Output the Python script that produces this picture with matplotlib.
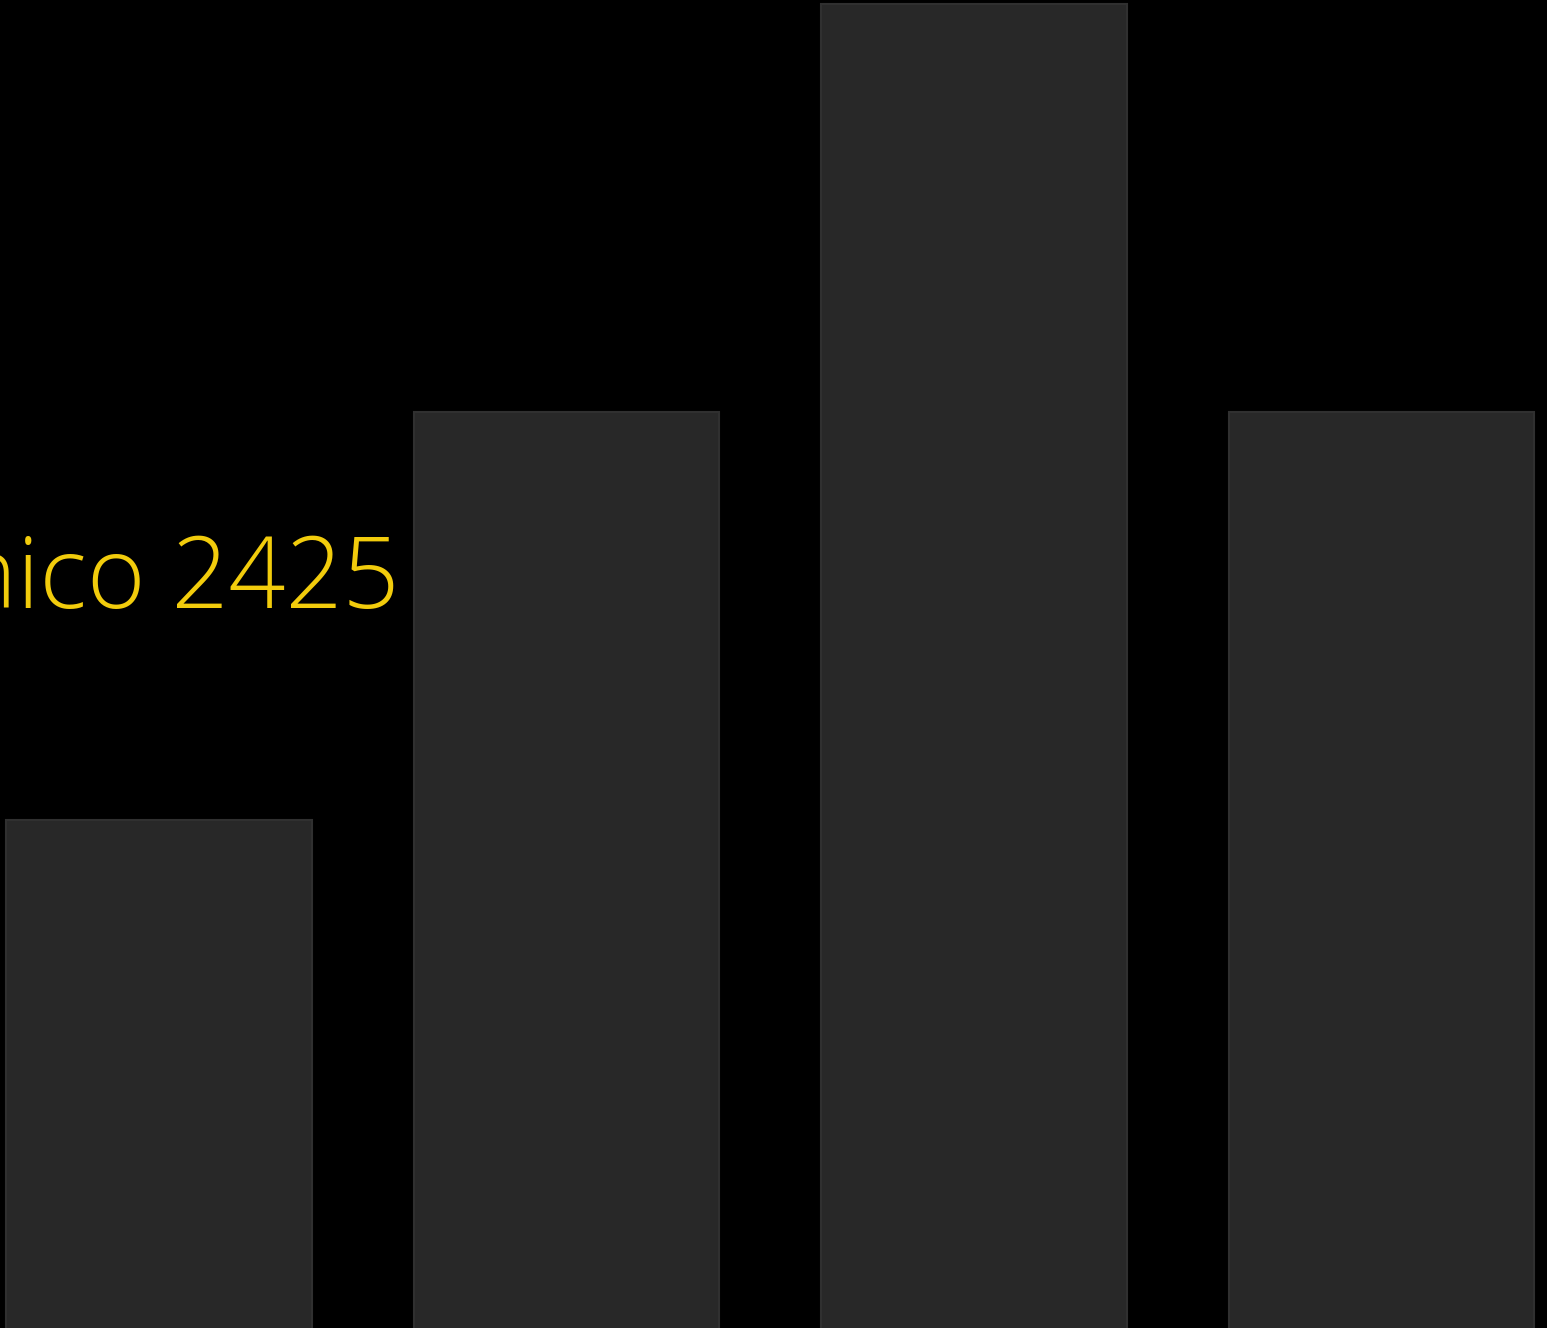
import matplotlib
matplotlib.use("Agg")
import matplotlib.pyplot as plt

categories = ["A", "B", "C", "D"]
values = [2, 3, 4, 3]
label_text = "nico 2425"

fig = plt.figure(figsize=(15.47, 13.28), dpi=100, facecolor="black")
ax = fig.add_axes([0, 0, 1, 1])
ax.set_facecolor("black")
x = list(range(len(categories)))
ax.bar(x, values, width=0.75, color="#282828", edgecolor="#303030", linewidth=1.5)
ax.set_xlim(-0.39, 3.406)
ax.set_ylim(0.755, 4.0098)
ax.axis("off")

fig.text(399 / 1547, 1 - 608 / 1328, label_text, ha="right", va="baseline",
         color="#F2CC0C", fontsize=72, family="Open Sans", fontweight="light")

fig.savefig("out.png", dpi=100, facecolor="black")
